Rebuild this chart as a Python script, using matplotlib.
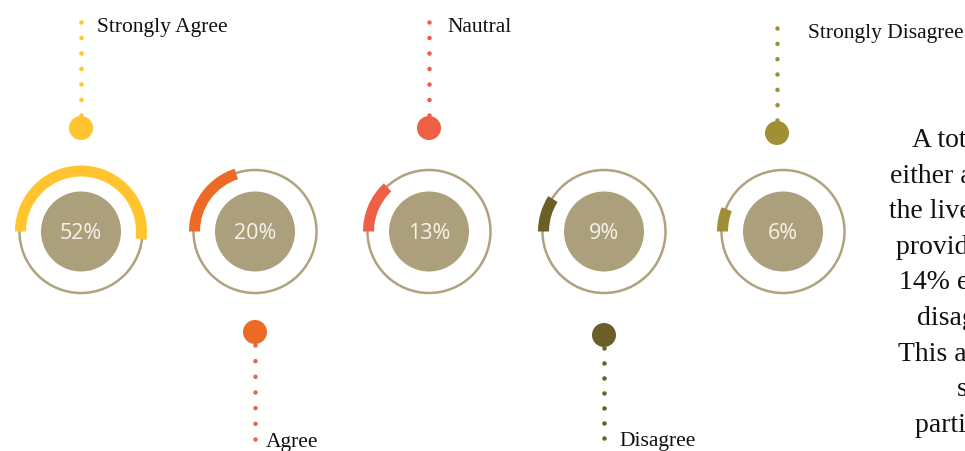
import matplotlib
matplotlib.use("Agg")
import matplotlib.pyplot as plt
from matplotlib.patches import Circle, Wedge

# ---- data ----
categories = ["Strongly Agree", "Agree", "Nautral", "Disagree", "Strongly Disagree"]
values = [52, 20, 13, 9, 6]
colors = ["#FFC42E", "#EC6A25", "#EE5F45", "#6B5E27", "#A08F34"]
dot_colors = ["#FFC42E", "#F0604A", "#EE5F45", "#6B5E27", "#A08F34"]
paragraph = [
    "A total of 72% respondents",
    "either agreed or strongly agreed that",
    "the livestock extension services",
    "provided were effective, while",
    "14% either disagreed or strongly",
    "disagreed with the statement.",
    "This affirms that the extension",
    "services benefited",
    "participating farmers.",
]

# ---- layout (pixels) ----
W, H = 965, 451
centers_x = [81, 255, 429, 604, 783]
callout_x = [81, 255, 429, 604, 777]
label_x = [97, 266, 447, 619, 808]
cy = 231.5
ring_r = 61.5
disc_r = 40
arc_outer = 66
arc_w = 11
up = [True, False, True, False, True]
big_dot_y = [128, 332, 128, 335, 133]
line_end_y = [22, 439, 22, 438, 28]
para_left = [912, 890, 889, 896, 899, 917, 898, 957, 915]
para_base0 = 147
para_step = 35.6

fig = plt.figure(figsize=(W / 100, H / 100), dpi=100)
ax = fig.add_axes([0, 0, 1, 1])
ax.set_xlim(0, W)
ax.set_ylim(H, 0)
ax.set_aspect("equal")
ax.axis("off")

ring_col = "#AFA27E"
disc_col = "#AC9F7C"
px = 72 / 100  # points per pixel
dot_lw = 4.6  # px

for i, (cat, v) in enumerate(zip(categories, values)):
    cx = centers_x[i]
    ax.add_patch(Circle((cx, cy), ring_r, fill=False, ec=ring_col, lw=2.5 * px))
    ax.add_patch(Circle((cx, cy), disc_r, fc=disc_col, ec="none"))
    ax.add_patch(Wedge((cx, cy), arc_outer, 180, 180 + 3.6 * v, width=arc_w,
                       fc=colors[i], ec="none"))
    ax.text(cx, cy + 2, f"{v}%", ha="center", va="center", color="#F7F3EA",
            fontsize=15.5, family="Open Sans")

    # callout
    lx = callout_x[i]
    by = big_dot_y[i]
    ey = line_end_y[i]
    sgn = -1 if up[i] else 1
    near = by + sgn * 13
    gap = abs(near - ey) / 6.0
    ax.plot([lx, lx], [ey, near - sgn * 2], color=dot_colors[i], lw=dot_lw * px,
            linestyle=(0, (0.001, gap / dot_lw)), dash_capstyle="round")
    ax.add_patch(Circle((lx, by), 12, fc=colors[i], ec="none"))
    ax.text(label_x[i], ey + (10 if up[i] else 8), cat, ha="left", va="baseline",
            color="#111111", fontsize=15.5, family="Liberation Serif")

# paragraph on right (cropped by figure edge, as in the source)
for j, line in enumerate(paragraph):
    ax.text(para_left[j], para_base0 + para_step * j, line, ha="left",
            va="baseline", fontsize=20, family="Liberation Serif",
            color="#111111", clip_on=False)

fig.savefig("out.png", dpi=100)
